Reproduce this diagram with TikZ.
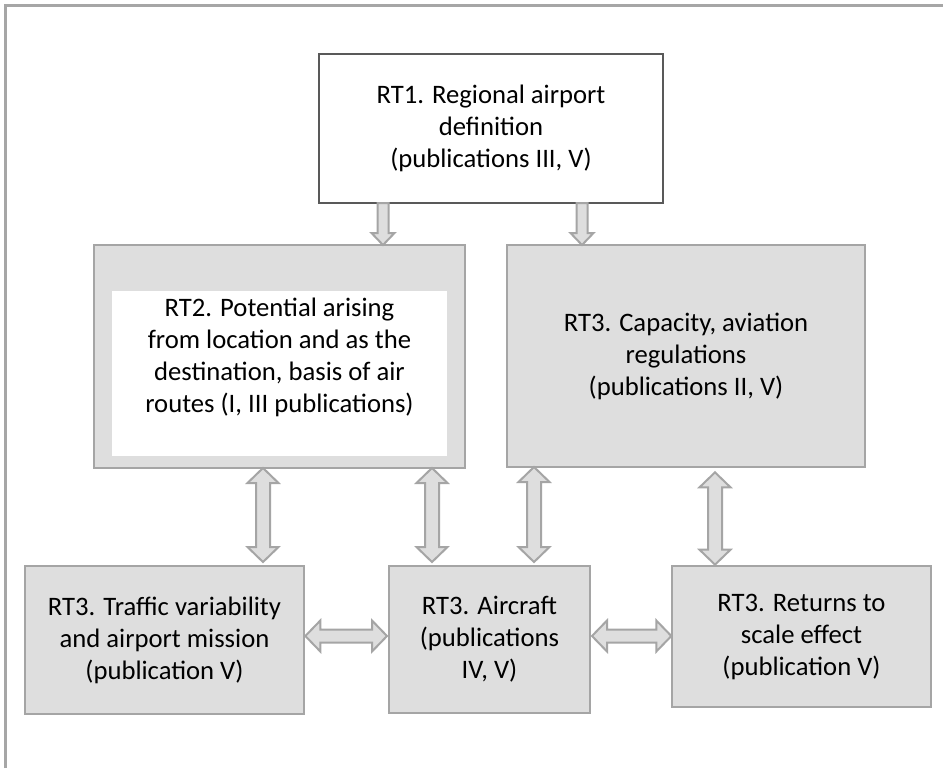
\documentclass[tikz,border=0pt]{standalone}
\usepackage{fontspec}
\setmainfont{Carlito}
\usetikzlibrary{calc}
\definecolor{boxfill}{HTML}{DEDEDE}
\definecolor{boxline}{HTML}{A5A5A5}
\definecolor{rtline}{HTML}{595959}
\definecolor{framegray}{HTML}{A6A6A6}
\tikzset{
  txt/.style={font=\fontsize{20}{24}\selectfont, align=center, text=black},
  graybox/.style={draw=boxline, fill=boxfill, line width=1.6pt, inner sep=0pt, outer sep=0pt, txt},
  topbox/.style={draw=rtline, fill=white, line width=1.6pt, inner sep=0pt, outer sep=0pt, txt},
  blockarrow/.style={draw=boxline, fill=boxfill, line width=1.5pt, line join=miter},
  framestyle/.style={draw=framegray, line width=2pt},
}
% vertical double block arrow: #1 top tip, #2 bottom tip
\newcommand\vdarrow[2]{%
  \filldraw[blockarrow] (#1) -- ++(15.5,15) -- ++(-8.5,0) -- ($(#2)+(7,-15)$) -- ++(8.5,0) -- (#2)
    -- ++(-15.5,-15) -- ++(8.5,0) -- ($(#1)+(-7,15)$) -- ++(-8.5,0) -- cycle;}
% horizontal double block arrow: #1 left tip, #2 right tip
\newcommand\hdarrow[2]{%
  \filldraw[blockarrow] (#1) -- ++(15,-15.5) -- ++(0,9) -- ($(#2)+(-15,-6.5)$) -- ++(0,-9) -- (#2)
    -- ++(-15,15.5) -- ++(0,-9) -- ($(#1)+(15,6.5)$) -- ++(0,9) -- cycle;}
% single down block arrow: #1 top middle, #2 tip
\newcommand\vsarrow[2]{%
  \filldraw[blockarrow] ($(#1)+(-5.5,0)$) -- ($(#1)+(5.5,0)$) -- ($(#2)+(5.5,-12)$) -- ++(6,0) -- (#2)
    -- ++(-11.5,-12) -- ++(6,0) -- cycle;}
\begin{document}
\begin{tikzpicture}[x=0.75pt, y=-0.75pt]
\useasboundingbox (0,0) rectangle (943,768);
\fill[white] (0,0) rectangle (943,768);
\draw[framestyle] (5.5,768) -- (5.5,5.5) -- (943,5.5);

% boxes
\node[topbox, minimum width={344*0.75pt}, minimum height={149*0.75pt}] (rt1) at (491,128.5)
  {RT1. Regional airport\\definition\\(publications III, V)};
\node[graybox, minimum width={371*0.75pt}, minimum height={223*0.75pt}] (rt2) at (279.5,356.5) {};
\fill[white] (112,291) rectangle (447,456);
\node[txt] (rt2t) at (279.5,357)
  {RT2. Potential arising\\from location and as the\\destination, basis of air\\routes (I, III publications)};
\node[graybox, minimum width={358*0.75pt}, minimum height={222*0.75pt}] (cap) at (686,356)
  {RT3. Capacity, aviation\\regulations\\(publications II, V)};
\node[graybox, minimum width={279*0.75pt}, minimum height={148*0.75pt}] (traffic) at (164.5,640)
  {RT3. Traffic variability\\and airport mission\\(publication V)};
\node[graybox, minimum width={201*0.75pt}, minimum height={147*0.75pt}] (aircraft) at (489.5,639.5)
  {RT3. Aircraft\\(publications\\IV, V)};
\node[graybox, minimum width={259*0.75pt}, minimum height={141*0.75pt}] (returns) at (801.5,636.5)
  {RT3. Returns to\\scale effect\\(publication V)};

% arrow end points
\coordinate (s1t) at (383,0 |- rt1.south);
\coordinate (s1b) at (383,0 |- rt2.north);
\coordinate (s2t) at (582,0 |- rt1.south);
\coordinate (s2b) at (582,0 |- cap.north);

\coordinate (v1t) at (263,0 |- rt2.south);
\coordinate[yshift=3pt] (v1b) at (263,0 |- traffic.north);
\coordinate (v2t) at (432,0 |- rt2.south);
\coordinate[yshift=3pt] (v2b) at (432,0 |- aircraft.north);
\coordinate (v3t) at (534,0 |- cap.south);
\coordinate[yshift=3pt] (v3b) at (534,0 |- aircraft.north);
\coordinate[yshift=-4pt] (v4t) at (715,0 |- cap.south);
\coordinate[yshift=1pt] (v4b) at (715,0 |- returns.north);

\coordinate[xshift=1pt] (h1l) at (traffic.east |- 0,636);
\coordinate[xshift=-1.5pt] (h1r) at (aircraft.west |- 0,636);
\coordinate[xshift=1.5pt] (h2l) at (aircraft.east |- 0,636);
\coordinate[xshift=-0.5pt] (h2r) at (returns.west |- 0,636);

\vsarrow{s1t}{s1b}
\vsarrow{s2t}{s2b}
\vdarrow{v1t}{v1b}
\vdarrow{v2t}{v2b}
\vdarrow{v3t}{v3b}
\vdarrow{v4t}{v4b}
\hdarrow{h1l}{h1r}
\hdarrow{h2l}{h2r}
\end{tikzpicture}
\end{document}
